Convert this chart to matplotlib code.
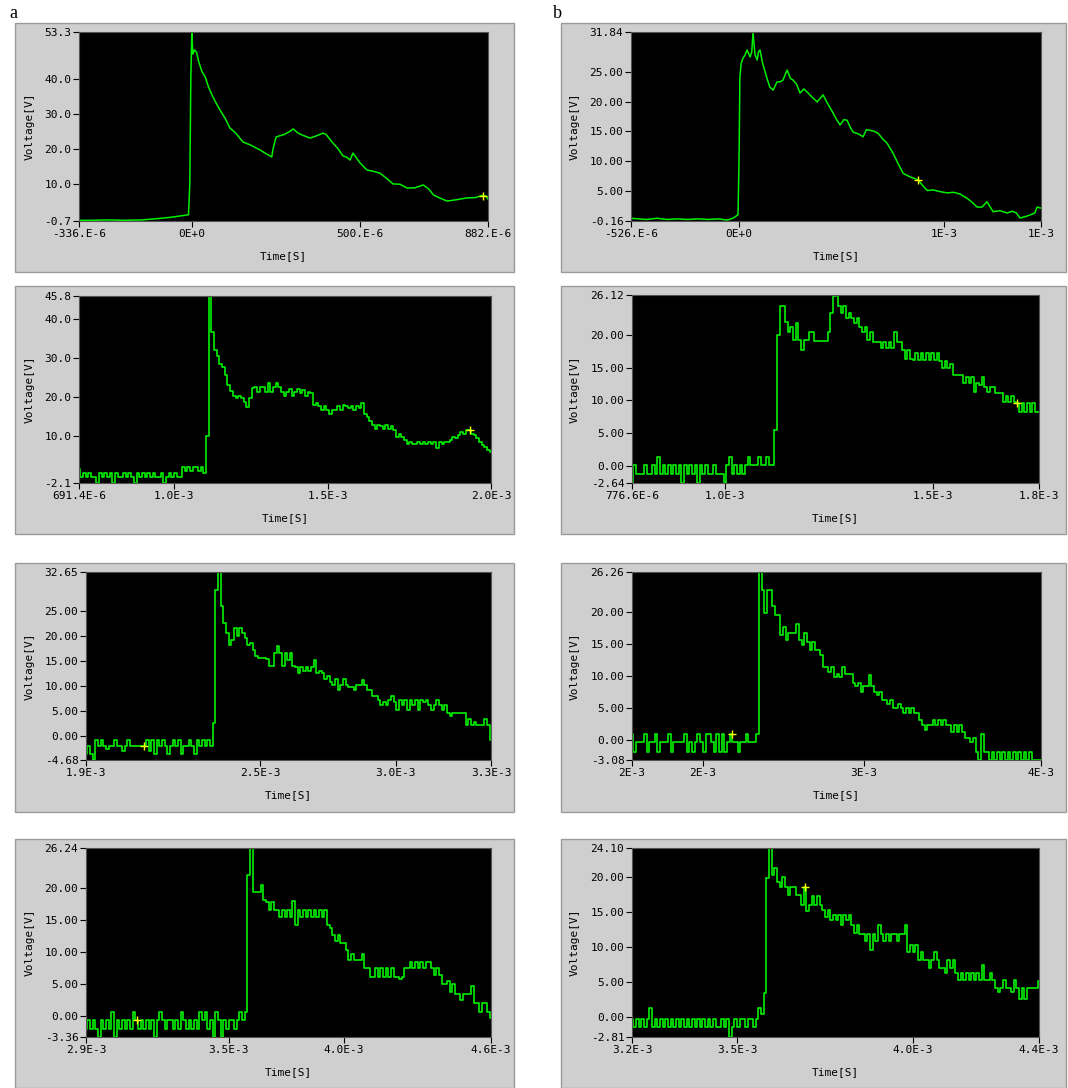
import numpy as np
import matplotlib
matplotlib.use('Agg')
import matplotlib.pyplot as plt
from matplotlib.patches import Rectangle

plt.rcParams['font.family'] = ['DejaVu Sans Mono']

W, H = 1068, 1088

# ---------------- data ----------------
# panel a1: time in microseconds, voltage in V
a1_time_us = [-336, -300, -250, -200, -150, -100, -60, -30, -10, -6,
              -3, 0, 3, 8, 14, 20, 30, 40, 50, 63,
              75, 84, 100, 113, 130, 152, 175, 203, 220, 238,
              242, 251, 260, 275, 290, 302, 315, 330, 352, 370,
              391, 400, 420, 435, 450, 462, 471, 480, 500, 521,
              540, 560, 580, 599, 620, 641, 665, 689, 705, 720,
              740, 760, 790, 819, 845, 867, 876, 882]
a1_volt = [-0.5, -0.5, -0.4, -0.5, -0.4, 0.0, 0.4, 0.8, 1.1, 10.0,
           40.0, 53.3, 47.0, 48.2, 47.5, 45.0, 42.0, 40.4, 37.5, 34.7,
           32.5, 31.0, 28.5, 25.9, 24.5, 21.9, 21.0, 19.6, 18.6, 17.6,
           20.0, 23.3, 23.6, 24.0, 24.8, 25.6, 24.5, 23.8, 23.0, 23.6,
           24.4, 24.0, 21.6, 20.0, 17.9, 17.5, 16.7, 18.7, 16.0, 13.9,
           13.5, 13.0, 11.5, 9.9, 9.8, 8.7, 8.8, 9.6, 8.5, 6.7,
           5.8, 5.0, 5.4, 5.9, 6.0, 6.7, 6.4, 5.6]

# panel b1: time in microseconds, voltage in V
b1_time_us = [-526, -450, -400, -350, -300, -250, -200, -150, -100, -58,
              -30, -5, 0, 4, 10, 19, 30, 39, 54, 62,
              68, 78, 88, 95, 102, 115, 136, 150, 166, 185,
              200, 214, 234, 250, 263, 280, 297, 315, 331, 350,
              380, 409, 430, 458, 475, 492, 510, 526, 540, 555,
              580, 604, 620, 638, 660, 677, 700, 721, 750, 775,
              799, 833, 872, 900, 916, 945, 980, 1013, 1045, 1076,
              1110, 1135, 1159, 1183, 1207, 1237, 1270, 1305, 1330, 1350,
              1368, 1395, 1417, 1440, 1451, 1471]
b1_volt = [0.3, 0.1, 0.3, 0.1, 0.2, 0.1, 0.2, 0.1, 0.2, 0.0,
           0.3, 0.9, 10.2, 24.0, 26.5, 27.4, 28.0, 28.8, 27.6, 28.5,
           31.7, 28.0, 27.1, 28.5, 28.8, 26.5, 24.0, 22.5, 22.0, 23.4,
           23.4, 23.7, 25.4, 24.0, 23.7, 23.0, 21.5, 22.2, 21.7, 21.0,
           20.0, 21.2, 19.8, 18.1, 17.0, 16.1, 17.0, 16.9, 15.8, 14.9,
           14.6, 14.1, 15.3, 15.2, 15.0, 14.7, 13.7, 13.0, 11.3, 9.5,
           7.9, 7.3, 6.8, 5.6, 5.0, 5.1, 4.8, 4.6, 4.7, 4.4,
           3.7, 3.0, 2.2, 2.2, 3.1, 1.4, 1.6, 1.2, 1.5, 1.2,
           0.35, 0.6, 0.86, 1.2, 2.2, 2.0]

# sampled (quantised) records, equally spaced over the displayed window
a2_volt = [1.4, -0.6, 0.4, -0.6, 0.4, -0.6, -0.6, -2.1, 0.4, -0.6,
           0.4, -0.6, 0.4, -2.1, 0.4, -0.6, -0.6, 0.4, -0.6, 0.4,
           -0.6, -2.1, 0.4, -0.6, 0.4, -0.6, 0.4, -0.6, 0.4, -0.6,
           -0.6, 0.4, -2.1, -0.6, 0.4, -0.6, 0.4, -0.6, -0.6, 1.9,
           0.9, 1.9, 0.9, 1.9, 1.9, 0.9, 1.9, 0.4, 10.0, 45.8,
           36.7, 32.0, 30.5, 28.5, 27.7, 25.5, 23.0, 21.5, 20.2, 19.6,
           20.2, 19.6, 18.7, 17.3, 19.6, 22.2, 22.6, 21.3, 22.6, 22.6,
           21.3, 23.6, 21.3, 22.6, 23.6, 22.6, 21.3, 20.2, 21.3, 22.1,
           20.2, 21.3, 22.1, 20.9, 21.7, 20.2, 21.3, 20.9, 17.9, 18.5,
           17.6, 16.6, 17.6, 16.6, 15.6, 16.6, 16.6, 17.6, 16.6, 18.0,
           17.6, 17.0, 17.6, 16.6, 17.6, 17.0, 18.5, 15.6, 14.9, 13.9,
           12.8, 11.8, 12.8, 12.4, 11.8, 12.8, 11.8, 12.4, 11.5, 9.8,
           10.4, 9.8, 8.9, 7.9, 8.4, 7.9, 7.9, 8.4, 7.9, 8.4,
           7.9, 8.4, 7.9, 8.4, 6.9, 8.4, 7.9, 8.4, 8.4, 8.9,
           9.8, 9.3, 10.2, 11.0, 10.4, 11.4, 11.4, 10.4, 10.2, 9.3,
           8.4, 7.6, 7.0, 6.3, 5.9]

a3_volt = [-3.4, -1.9, -3.4, -4.6, -0.7, -1.9, -0.7, -1.9, -2.4, -1.9,
           -1.9, -0.7, -1.9, -1.9, -2.9, -1.9, -0.7, -1.9, -1.9, -1.9,
           -1.9, -1.9, -1.9, -0.7, -2.9, -0.7, -3.4, -0.7, -1.9, -0.7,
           -1.9, -3.4, -1.9, -0.7, -1.9, -0.7, -3.4, -1.9, -1.9, -0.7,
           -1.9, -3.4, -0.7, -1.9, -0.7, -1.9, -0.7, -1.9, 2.7, 29.1,
           32.6, 25.8, 22.5, 20.5, 18.2, 19.2, 21.5, 20.0, 21.5, 20.5,
           19.5, 18.2, 18.6, 17.2, 16.0, 15.5, 15.5, 15.5, 15.4, 14.0,
           14.0, 16.5, 18.0, 16.5, 14.0, 16.5, 15.2, 16.5, 14.0, 13.8,
           12.6, 13.8, 12.9, 13.8, 12.9, 13.8, 15.2, 12.6, 12.9, 12.6,
           11.5, 12.0, 10.9, 10.2, 11.5, 9.2, 10.2, 11.5, 10.2, 9.9,
           9.9, 9.2, 10.2, 10.2, 11.2, 10.2, 9.2, 9.2, 8.0, 8.0,
           7.2, 6.2, 6.9, 6.2, 7.2, 8.0, 6.9, 5.2, 7.2, 6.2,
           7.2, 5.2, 7.2, 6.2, 7.2, 5.2, 7.2, 6.9, 7.2, 6.2,
           5.2, 6.2, 7.2, 6.2, 5.2, 6.2, 4.7, 4.0, 4.7, 4.7,
           4.7, 4.7, 4.7, 2.3, 3.4, 2.3, 2.9, 2.3, 2.3, 2.3,
           3.4, 2.3, -0.7]

a4_volt = [-2.1, -0.7, -2.1, -0.7, -2.1, -3.36, -0.7, -2.1, -0.7, -2.1,
           0.6, -3.36, -0.7, -2.1, -0.7, -2.1, -0.7, -2.1, 0.6, -0.7,
           -2.1, -0.7, -2.1, -0.7, -2.1, -0.7, -3.36, -0.7, 0.6, -0.7,
           -2.1, -0.7, -0.7, -2.1, -0.7, -2.1, 0.6, -0.7, -2.1, -0.7,
           -2.1, -0.7, -2.1, 0.6, -0.7, 0.6, -2.1, -0.7, -3.36, 0.6,
           -0.7, -3.36, -0.7, -2.1, -0.7, -0.7, -2.1, -0.7, 0.6, -0.7,
           0.6, 22.0, 26.2, 19.4, 19.4, 19.4, 20.5, 18.1, 17.8, 16.6,
           17.8, 16.6, 16.6, 15.5, 16.6, 15.5, 16.6, 15.5, 17.9, 14.2,
           16.6, 15.5, 16.6, 15.5, 16.6, 15.5, 16.6, 15.5, 16.6, 15.5,
           16.6, 14.2, 13.7, 12.6, 11.6, 12.6, 11.4, 11.4, 10.3, 8.7,
           9.7, 8.7, 8.7, 8.7, 9.7, 7.4, 7.4, 6.1, 6.1, 7.4,
           6.1, 7.4, 6.1, 7.4, 6.1, 7.4, 6.1, 6.1, 5.8, 6.1,
           7.4, 7.4, 8.4, 7.4, 8.4, 7.4, 8.4, 7.4, 8.4, 8.4,
           7.4, 6.4, 7.4, 6.4, 5.0, 5.0, 5.4, 3.7, 5.0, 3.3,
           3.3, 2.4, 3.3, 3.3, 3.3, 4.6, 2.0, 2.0, 0.6, 2.0,
           2.0, 0.6, -0.4]

b2_volt = [-2.64, 0.1, -1.2, -1.2, -1.2, 0.1, -1.2, -1.2, 0.1, -1.2,
           1.4, -1.2, 0.1, -1.2, 0.1, -1.2, 0.1, -1.2, 0.1, -2.64,
           0.1, -1.2, 0.1, -1.2, 0.1, -2.64, 0.1, -1.2, 0.1, -1.2,
           -1.2, 0.1, -1.2, -1.2, -1.2, -2.64, 0.1, 1.4, -1.2, 0.1,
           -1.2, 0.1, -1.2, 0.1, 1.4, 0.1, 0.1, 0.1, 1.4, 0.1,
           0.1, 1.4, 0.1, 0.1, 5.5, 20.0, 24.4, 24.4, 22.0, 20.5,
           21.3, 19.2, 21.8, 19.2, 17.7, 19.2, 19.2, 20.5, 20.5, 19.1,
           19.1, 19.1, 19.1, 19.1, 20.5, 23.3, 25.9, 26.1, 24.4, 23.3,
           24.4, 22.6, 23.3, 22.6, 21.8, 22.6, 21.3, 20.5, 21.3, 19.2,
           20.5, 19.0, 19.0, 19.0, 18.0, 19.0, 18.0, 19.0, 18.0, 20.5,
           19.0, 19.0, 17.7, 16.4, 17.7, 16.4, 16.2, 17.2, 16.2, 17.2,
           16.2, 17.2, 16.2, 17.2, 16.2, 17.2, 16.0, 14.9, 16.0, 14.9,
           15.6, 13.9, 13.9, 13.9, 13.9, 12.6, 13.6, 12.6, 13.6, 11.3,
           12.6, 12.4, 13.6, 12.1, 11.3, 12.1, 12.1, 11.2, 11.2, 11.2,
           9.8, 10.6, 9.8, 10.6, 9.8, 9.6, 8.2, 9.6, 8.2, 9.6,
           8.2, 9.6, 8.2, 8.2]

b3_volt = [0.95, -1.78, -0.22, -0.22, -0.22, 0.95, -1.78, -0.22, -0.22, 0.95,
           -1.78, -0.22, -0.22, -0.22, 0.95, -1.78, -0.22, -0.22, -0.22, -0.22,
           0.95, -1.78, -0.22, -1.78, -0.22, 0.95, -0.22, -1.78, 0.95, 0.95,
           -0.22, -1.78, 0.95, -1.78, 0.95, -1.78, -0.22, 0.95, -0.22, -0.22,
           -1.78, -0.22, -0.22, 0.95, -0.22, -0.22, -0.22, 0.95, 26.2, 23.4,
           19.8, 23.4, 23.4, 21.0, 19.5, 19.5, 16.4, 17.7, 15.6, 16.8,
           16.8, 16.8, 18.1, 15.6, 14.9, 16.8, 15.3, 14.1, 15.3, 14.1,
           14.1, 13.3, 11.5, 11.5, 10.7, 11.5, 9.9, 10.4, 9.9, 11.5,
           10.4, 10.4, 10.4, 8.9, 8.4, 8.9, 7.6, 8.4, 8.4, 10.2,
           8.4, 7.6, 7.1, 7.6, 6.3, 6.3, 5.6, 6.3, 5.0, 5.0,
           5.7, 5.0, 4.2, 5.0, 4.2, 5.0, 4.2, 4.2, 3.2, 2.4,
           1.6, 2.4, 2.4, 3.2, 2.4, 3.2, 2.4, 3.2, 2.4, 2.4,
           1.3, 2.4, 1.3, 2.4, 1.3, 0.3, 0.3, -0.2, 0.3, -1.8,
           -3.08, 0.9, -1.8, -1.8, -3.08, -1.8, -3.08, -1.8, -3.08, -1.8,
           -3.08, -1.8, -3.08, -1.8, -3.08, -1.8, -3.08, -1.8, -3.08, -1.8,
           -3.08, -3.08, -3.08, -3.08]

b4_volt = [-0.29, -1.43, -0.29, -1.43, -0.29, -1.43, -0.29, 1.28, -1.43, -0.29,
           -1.43, -0.29, -1.43, -0.29, -1.43, -0.29, -1.43, -0.29, -1.43, -0.29,
           -1.43, -0.29, -1.43, -0.29, -1.43, -0.29, -1.43, -0.29, -1.43, -0.29,
           -1.43, -0.29, -1.43, -1.43, -0.29, -1.43, -0.29, -2.81, -1.43, -0.29,
           -1.43, -0.29, -0.29, -1.43, -0.29, -0.29, -1.43, -0.29, 1.28, 0.5,
           3.4, 19.8, 24.1, 20.2, 21.2, 19.3, 18.6, 20.0, 18.6, 17.4,
           18.6, 18.6, 17.4, 17.4, 16.0, 18.5, 15.1, 16.0, 17.2, 16.0,
           17.2, 16.0, 15.3, 14.3, 15.3, 13.8, 14.5, 13.8, 14.5, 13.1,
           14.5, 13.8, 14.5, 13.1, 12.0, 13.1, 11.9, 11.9, 10.8, 11.9,
           9.6, 11.9, 10.8, 13.1, 11.9, 10.8, 11.9, 10.8, 11.9, 11.9,
           10.8, 11.9, 11.9, 13.1, 9.3, 10.3, 9.3, 10.3, 8.2, 9.3,
           8.2, 8.2, 7.0, 8.2, 9.3, 8.2, 7.0, 7.0, 6.3, 8.2,
           7.0, 8.2, 6.3, 5.3, 6.3, 5.3, 6.3, 5.3, 6.3, 5.3,
           6.3, 5.3, 7.4, 5.3, 5.3, 6.3, 5.3, 4.2, 3.6, 4.2,
           5.3, 4.2, 4.2, 3.6, 5.3, 4.2, 2.6, 4.2, 2.6, 4.2,
           4.2, 4.2, 4.2, 5.2]

# display windows (s) and axis labels
a1_xlim = (-336e-6, 882e-6)
a1_xticks = [-336e-6, 0.0, 500e-6, 882e-6]
a1_xlabels = ['-336.E-6', '0E+0', '500.E-6', '882.E-6']
a1_ylim = (-0.7, 53.3)
a1_yticks = [10.0, 20.0, 30.0, 40.0]

a2_xlim = (691.4e-6, 2.03e-3)
a2_xticks = [691.4e-6, 1.0e-3, 1.5e-3, 2.03e-3]
a2_xlabels = ['691.4E-6', '1.0E-3', '1.5E-3', '2.0E-3']
a2_ylim = (-2.1, 45.8)
a2_yticks = [10.0, 20.0, 30.0, 40.0]

a3_xlim = (1.86e-3, 3.35e-3)
a3_xticks = [1.86e-3, 2.5e-3, 3.0e-3, 3.35e-3]
a3_xlabels = ['1.9E-3', '2.5E-3', '3.0E-3', '3.3E-3']
a3_ylim = (-4.68, 32.65)
a3_yticks = [0, 5, 10, 15, 20, 25]

a4_xlim = (2.878e-3, 4.64e-3)
a4_xticks = [2.878e-3, 3.5e-3, 4.0e-3, 4.64e-3]
a4_xlabels = ['2.9E-3', '3.5E-3', '4.0E-3', '4.6E-3']
a4_ylim = (-3.36, 26.24)
a4_yticks = [0, 5, 10, 15, 20]

b1_xlim = (-526e-6, 1.47e-3)
b1_xticks = [-526e-6, 0.0, 1.0e-3, 1.47e-3]
b1_xlabels = ['-526.E-6', '0E+0', '1E-3', '1E-3']
b1_ylim = (-0.16, 31.84)
b1_yticks = [5, 10, 15, 20, 25]

b2_xlim = (776.6e-6, 1.754e-3)
b2_xticks = [776.6e-6, 1.0e-3, 1.5e-3, 1.754e-3]
b2_xlabels = ['776.6E-6', '1.0E-3', '1.5E-3', '1.8E-3']
b2_ylim = (-2.64, 26.12)
b2_yticks = [0, 5, 10, 15, 20]

b3_xlim = (1.56e-3, 4.10e-3)
b3_xticks = [1.56e-3, 2.0e-3, 3.0e-3, 4.10e-3]
b3_xlabels = ['2E-3', '2E-3', '3E-3', '4E-3']
b3_ylim = (-3.08, 26.26)
b3_yticks = [0, 5, 10, 15, 20]

b4_xlim = (3.2e-3, 4.36e-3)
b4_xticks = [3.2e-3, 3.5e-3, 4.0e-3, 4.36e-3]
b4_xlabels = ['3.2E-3', '3.5E-3', '4.0E-3', '4.4E-3']
b4_ylim = (-2.81, 24.10)
b4_yticks = [0, 5, 10, 15, 20]

# yellow cursor marks
cursor_t = [867e-6, 1.961e-3, 2.073e-3, 3.098e-3, 872e-6, 1.702e-3, 2.179e-3, 3.694e-3]
cursor_v = [6.4, 11.6, -1.9, -0.7, 6.8, 9.64, 0.98, 18.5]

# ---------------- layout (pixels) ----------------
fig = plt.figure(figsize=(W / 100, H / 100), dpi=100, facecolor='white')

rows_y = [(23, 272), (286, 534), (563, 812), (839, 1088)]
box_x = [(15, 514), (561, 1066)]
ax_px = [(79, 32, 488, 221), (79, 296, 491, 483), (86, 572, 491, 760), (86, 848, 491, 1037),
         (631, 32, 1041, 221), (632, 295, 1039, 483), (632, 572, 1041, 760), (632, 848, 1039, 1037)]
ylabel_x = [30, 30, 30, 30, 575, 575, 575, 575]

panels = [
    (np.array(a1_time_us) * 1e-6, a1_volt, a1_xlim, a1_xticks, a1_xlabels, a1_ylim, a1_yticks, '%.1f'),
    (None, a2_volt, a2_xlim, a2_xticks, a2_xlabels, a2_ylim, a2_yticks, '%.1f'),
    (None, a3_volt, a3_xlim, a3_xticks, a3_xlabels, a3_ylim, a3_yticks, '%.2f'),
    (None, a4_volt, a4_xlim, a4_xticks, a4_xlabels, a4_ylim, a4_yticks, '%.2f'),
    (np.array(b1_time_us) * 1e-6, b1_volt, b1_xlim, b1_xticks, b1_xlabels, b1_ylim, b1_yticks, '%.2f'),
    (None, b2_volt, b2_xlim, b2_xticks, b2_xlabels, b2_ylim, b2_yticks, '%.2f'),
    (None, b3_volt, b3_xlim, b3_xticks, b3_xlabels, b3_ylim, b3_yticks, '%.2f'),
    (None, b4_volt, b4_xlim, b4_xticks, b4_xlabels, b4_ylim, b4_yticks, '%.2f'),
]

# grey instrument panels
for (bl, br) in box_x:
    for (bt, bb) in rows_y:
        fig.add_artist(Rectangle((bl / W, 1 - bb / H), (br - bl) / W, (bb - bt) / H,
                                 transform=fig.transFigure, facecolor='#cfcfcf',
                                 edgecolor='#9a9a9a', lw=1.0, zorder=0))

for k, (t, v, xlim, xt, xl, ylim, yt, fmt) in enumerate(panels):
    l, tp, r, b = ax_px[k]
    ax = fig.add_axes([l / W, 1 - b / H, (r - l) / W, (b - tp) / H])
    ax.set_facecolor('black')
    if t is None:
        # evenly sampled record across the window
        t = np.linspace(xlim[0], xlim[1], len(v))
        ax.plot(t, v, color='#00f000', lw=1.2, drawstyle='steps-mid')
    else:
        ax.plot(t, v, color='#00f000', lw=1.1)
    ax.plot(cursor_t[k], cursor_v[k], marker='+', color='#ffff00', ms=6, mew=1.0)
    ax.set_xlim(*xlim)
    ax.set_ylim(*ylim)
    ax.set_xticks(xt)
    ax.set_xticklabels(xl)
    yticks = [ylim[0]] + list(yt) + [ylim[1]]
    ax.set_yticks(yticks)
    ax.set_yticklabels([fmt % y for y in yticks])
    ax.tick_params(direction='out', length=4, width=0.8, colors='black', labelsize=8, pad=1.5)
    for sp in ax.spines.values():
        sp.set_color('#555555')
        sp.set_linewidth(0.8)
    fig.text(ylabel_x[k] / W, 1 - (tp + b) / 2 / H, 'Voltage[V]', rotation=90,
             ha='center', va='center', fontsize=8)
    fig.text((l + r) / 2 / W, 1 - (b + 35) / H, 'Time[S]', ha='center', va='center', fontsize=8)

fig.text(9 / W, 1 - 18 / H, 'a', family='Liberation Serif', fontsize=13, va='baseline')
fig.text(553 / W, 1 - 18 / H, 'b', family='Liberation Serif', fontsize=13, va='baseline')

fig.savefig('out.png', dpi=100, facecolor='white')
